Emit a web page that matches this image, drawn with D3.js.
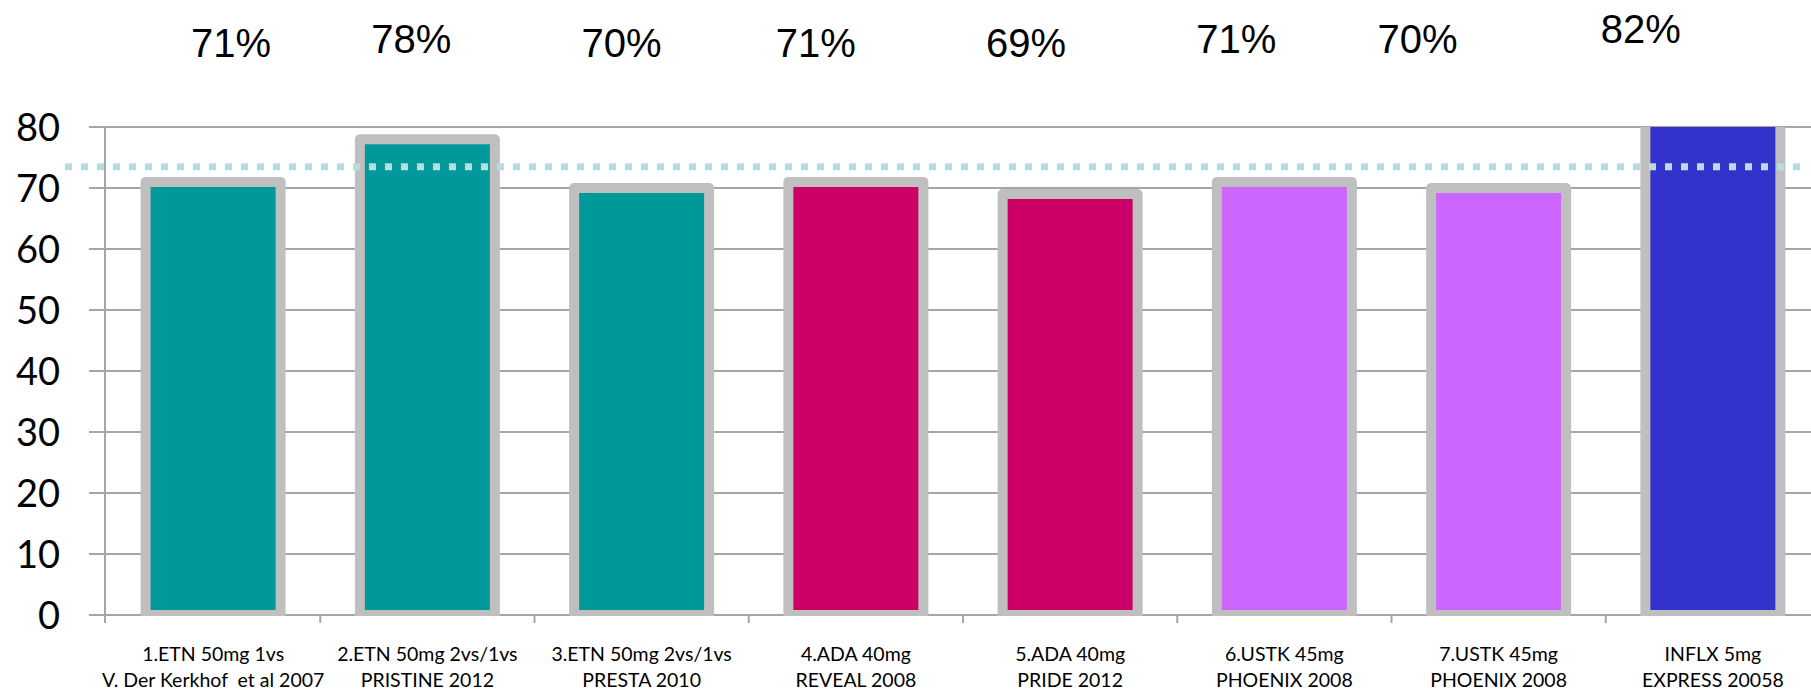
<!DOCTYPE html>
<html>
<head>
<meta charset="utf-8">
<script src="https://cdn.jsdelivr.net/npm/d3@7"></script>
<style>
  body { margin: 0; background: #fff; }
  svg { display: block; }
</style>
</head>
<body>
<script>
// chart data
const studies = [
  ["1.ETN 50mg 1vs", "V. Der Kerkhof  et al 2007"],
  ["2.ETN 50mg 2vs/1vs", "PRISTINE 2012"],
  ["3.ETN 50mg 2vs/1vs", "PRESTA 2010"],
  ["4.ADA 40mg", "REVEAL 2008"],
  ["5.ADA 40mg", "PRIDE 2012"],
  ["6.USTK 45mg", "PHOENIX 2008"],
  ["7.USTK 45mg", "PHOENIX 2008"],
  ["INFLX 5mg", "EXPRESS 20058"],
];
const values = [71, 78, 70, 71, 69, 71, 70, 82];
const pctLabels = ["71%", "78%", "70%", "71%", "69%", "71%", "70%", "82%"];
const barColors = ["#009999", "#009999", "#009999", "#cc0066", "#cc0066", "#cc66ff", "#cc66ff", "#3333cc"];
const yTicks = [0, 10, 20, 30, 40, 50, 60, 70, 80];
const refValue = 73.5;

// hand placed percentage boxes: [dx from bar centre, baseline]
const pctNudge = [[18, 57], [-16, 53], [-20, 57], [-40, 57], [-44, 57], [-48, 53], [-81, 53], [-72, 43]];

let width = 1811;
let height = 695;
let plot = { left: 106, right: 1820, top: 127, bottom: 615 };

let svg = d3
  .select("body")
  .append("svg")
  .attr("width", width)
  .attr("height", height);

let x = d3
  .scaleBand()
  .domain(d3.range(studies.length))
  .range([plot.left, plot.right])
  .padding(0);

let y = d3.scaleLinear().domain([0, 80]).range([plot.bottom, plot.top]);

let barW = x.bandwidth() * 0.63;

svg
  .append("clipPath")
  .attr("id", "plotClip")
  .append("rect")
  .attr("x", plot.left)
  .attr("y", plot.top)
  .attr("width", plot.right - plot.left)
  .attr("height", plot.bottom - plot.top + 1);

// gridlines (they also make the little ticks left of the axis)
svg
  .append("g")
  .selectAll("line")
  .data(yTicks)
  .enter()
  .append("line")
  .attr("x1", plot.left - 17)
  .attr("x2", width)
  .attr("y1", (d) => y(d))
  .attr("y2", (d) => y(d))
  .attr("stroke", "#a6a6a6")
  .attr("stroke-width", 2);

// y tick labels
svg
  .append("g")
  .selectAll("text")
  .data(yTicks)
  .enter()
  .append("text")
  .attr("x", 60)
  .attr("y", (d) => y(d))
  .attr("dy", "0.36em")
  .attr("text-anchor", "end")
  .style("font-family", "Lato, sans-serif")
  .style("font-size", "38px")
  .attr("fill", "#000")
  .text((d) => d);

// y axis line
svg
  .append("line")
  .attr("x1", plot.left - 1)
  .attr("x2", plot.left - 1)
  .attr("y1", plot.top)
  .attr("y2", plot.bottom + 8)
  .attr("stroke", "#a6a6a6")
  .attr("stroke-width", 2);

// category ticks under the x axis
svg
  .append("g")
  .selectAll("line")
  .data(d3.range(1, studies.length))
  .enter()
  .append("line")
  .attr("x1", (d) => x(d))
  .attr("x2", (d) => x(d))
  .attr("y1", plot.bottom)
  .attr("y2", plot.bottom + 8)
  .attr("stroke", "#a6a6a6")
  .attr("stroke-width", 2);

// bars with the thick grey outline
svg
  .append("g")
  .attr("clip-path", "url(#plotClip)")
  .selectAll("rect")
  .data(values)
  .enter()
  .append("rect")
  .attr("x", (d, i) => x(i) + (x.bandwidth() - barW) / 2)
  .attr("y", (d) => y(d))
  .attr("width", barW)
  .attr("height", (d) => y(0) - y(d))
  .attr("fill", (d, i) => barColors[i])
  .attr("stroke", "#bfbfbf")
  .attr("stroke-width", 10)
  .attr("stroke-linejoin", "round");

// reference dotted line
svg
  .append("line")
  .attr("x1", 65)
  .attr("x2", 1801)
  .attr("y1", y(refValue))
  .attr("y2", y(refValue))
  .attr("stroke", "#b7dde0")
  .attr("stroke-width", 7)
  .attr("stroke-dasharray", "7 9");

// percentage labels above the chart
svg
  .append("g")
  .selectAll("text")
  .data(pctLabels)
  .enter()
  .append("text")
  .attr("x", (d, i) => x(i) + x.bandwidth() / 2 + pctNudge[i][0])
  .attr("y", (d, i) => pctNudge[i][1])
  .attr("text-anchor", "middle")
  .style("font-family", "'Liberation Sans', Arial, sans-serif")
  .style("font-size", "40px")
  .attr("fill", "#000")
  .text((d) => d);

// category labels, two lines each
let cat = svg
  .append("g")
  .selectAll("text")
  .data(studies)
  .enter()
  .append("text")
  .attr("text-anchor", "middle")
  .style("font-family", "Lato, sans-serif")
  .style("font-size", "19.5px")
  .attr("fill", "#000");

cat
  .selectAll("tspan")
  .data((d, i) => d.map((t) => ({ t: t, i: i })))
  .enter()
  .append("tspan")
  .attr("x", (d) => x(d.i) + x.bandwidth() / 2)
  .attr("y", (d, j) => 661 + j * 26)
  .style("white-space", "pre")
  .text((d) => d.t);
</script>
</body>
</html>
